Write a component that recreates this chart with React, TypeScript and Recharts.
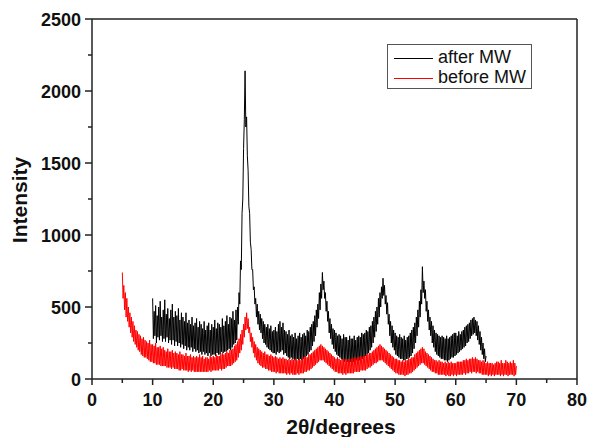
import React from 'react';
import { LineChart, Line, XAxis, YAxis, ReferenceLine, Label } from 'recharts';

// 2θ grid: each series starts at a given angle, one reading every 0.125°
const afterStart = 10;
const beforeStart = 5;
const step = 0.125;

// after MW, 10° .. 65°, one row per degree
const afterMW = [
  560, 280, 470, 300, 510, 250, 440, 290, // 10
  500, 270, 540, 300, 430, 260, 480, 280,
  550, 260, 450, 290, 490, 250, 420, 270,
  480, 240, 520, 270, 430, 230, 470, 260,
  440, 230, 490, 250, 410, 220, 460, 240,
  430, 210, 400, 230, 460, 200, 390, 220, // 15
  410, 200, 380, 220, 430, 190, 370, 210,
  390, 190, 420, 200, 360, 180, 400, 190,
  380, 170, 350, 190, 400, 170, 340, 180,
  370, 160, 390, 180, 340, 160, 380, 170,
  360, 170, 410, 160, 350, 180, 390, 170, // 20
  380, 170, 360, 190, 420, 180, 370, 190,
  400, 190, 440, 200, 380, 210, 430, 200,
  420, 220, 470, 240, 410, 250, 480, 270,
  500, 380, 600, 520, 820, 760, 1150, 1250,
  1600, 1800, 2140, 1750, 1820, 1550, 1450, 1200, // 25
  1150, 950, 900, 760, 760, 620, 640, 520,
  560, 430, 520, 380, 470, 340, 450, 320,
  420, 280, 400, 250, 380, 240, 360, 220,
  380, 210, 350, 200, 370, 190, 330, 180,
  340, 180, 360, 170, 330, 190, 380, 180, // 30
  400, 190, 360, 200, 390, 170, 340, 180,
  330, 160, 310, 150, 340, 140, 300, 150,
  310, 140, 290, 130, 320, 130, 280, 140,
  300, 130, 320, 140, 290, 130, 310, 140,
  320, 150, 300, 160, 340, 170, 330, 190, // 35
  360, 200, 380, 230, 400, 260, 440, 300,
  480, 360, 520, 420, 600, 480, 660, 560,
  740, 620, 680, 560, 600, 470, 540, 400,
  470, 320, 420, 280, 380, 240, 350, 210,
  340, 190, 320, 170, 300, 160, 310, 150, // 40
  300, 140, 280, 130, 310, 120, 290, 130,
  290, 120, 270, 110, 300, 120, 280, 110,
  280, 120, 300, 110, 270, 130, 290, 120,
  300, 130, 290, 140, 320, 140, 310, 150,
  320, 160, 340, 170, 330, 180, 360, 200, // 45
  370, 220, 400, 250, 430, 290, 470, 330,
  500, 380, 560, 430, 600, 500, 640, 560,
  700, 580, 650, 520, 580, 450, 530, 380,
  450, 300, 400, 250, 370, 220, 340, 200,
  320, 170, 300, 160, 290, 150, 310, 140, // 50
  290, 140, 280, 130, 300, 130, 270, 140,
  290, 140, 300, 150, 320, 160, 340, 180,
  360, 210, 390, 250, 430, 300, 480, 360,
  540, 430, 620, 520, 780, 600, 680, 560,
  620, 470, 540, 400, 480, 340, 430, 300, // 55
  400, 250, 370, 220, 340, 190, 320, 170,
  310, 160, 300, 150, 290, 140, 300, 140,
  290, 130, 280, 130, 300, 120, 280, 130,
  290, 140, 300, 150, 310, 150, 320, 160,
  320, 170, 300, 180, 330, 190, 310, 200, // 60
  330, 210, 340, 220, 360, 230, 370, 250,
  380, 260, 390, 280, 410, 300, 420, 310,
  430, 320, 410, 300, 400, 270, 370, 240,
  330, 200, 290, 170, 250, 140, 210, 120,
  160, // 65
];

// before MW, 5° .. 70°
const beforeMW = [
  740, 560, 650, 480, 600, 430, 560, 400, // 5
  500, 360, 460, 320, 430, 290, 400, 260,
  370, 240, 340, 220, 330, 200, 310, 190,
  300, 170, 280, 160, 290, 150, 270, 150,
  260, 140, 250, 130, 270, 120, 240, 120,
  240, 110, 230, 110, 250, 100, 220, 100, // 10
  220, 100, 230, 90, 210, 90, 220, 90,
  200, 90, 190, 80, 210, 80, 190, 80,
  190, 70, 200, 80, 180, 70, 190, 70,
  180, 70, 170, 60, 190, 60, 170, 70,
  170, 60, 160, 60, 180, 60, 160, 50, // 15
  160, 60, 170, 50, 150, 60, 160, 50,
  150, 50, 160, 50, 150, 50, 170, 50,
  150, 50, 160, 50, 140, 50, 150, 50,
  150, 50, 140, 60, 160, 50, 150, 60,
  160, 60, 150, 60, 170, 60, 160, 60, // 20
  160, 70, 170, 60, 180, 70, 170, 70,
  180, 80, 190, 90, 180, 90, 200, 90,
  200, 100, 210, 110, 230, 120, 240, 130,
  260, 150, 280, 180, 310, 200, 340, 240,
  380, 290, 430, 340, 460, 350, 420, 320, // 25
  360, 260, 320, 220, 290, 180, 260, 150,
  240, 130, 220, 110, 210, 100, 200, 90,
  190, 80, 180, 80, 190, 70, 170, 70,
  170, 60, 160, 60, 170, 50, 160, 50,
  150, 50, 160, 40, 150, 50, 140, 40, // 30
  150, 40, 140, 40, 150, 40, 140, 40,
  140, 30, 130, 40, 140, 30, 130, 40,
  140, 30, 130, 30, 140, 30, 130, 40,
  130, 30, 140, 40, 130, 40, 150, 40,
  150, 50, 160, 50, 150, 60, 170, 60, // 35
  170, 70, 180, 80, 190, 90, 200, 100,
  210, 110, 220, 120, 230, 130, 240, 130,
  230, 130, 220, 120, 210, 110, 200, 100,
  190, 90, 180, 80, 170, 70, 160, 60,
  150, 50, 140, 50, 150, 40, 140, 40, // 40
  130, 40, 140, 30, 130, 40, 140, 30,
  130, 40, 140, 40, 130, 40, 140, 40,
  140, 40, 150, 50, 140, 50, 150, 50,
  150, 50, 160, 60, 150, 60, 160, 60,
  160, 60, 170, 70, 170, 80, 180, 80, // 45
  180, 90, 190, 100, 200, 110, 210, 110,
  220, 120, 230, 130, 240, 130, 230, 130,
  220, 120, 210, 110, 200, 100, 190, 90,
  180, 80, 170, 70, 160, 60, 150, 50,
  140, 40, 140, 40, 130, 30, 130, 30, // 50
  120, 30, 130, 30, 120, 20, 130, 30,
  130, 30, 140, 40, 140, 40, 150, 50,
  150, 60, 170, 70, 180, 80, 190, 90,
  200, 100, 210, 110, 220, 110, 210, 100,
  190, 90, 180, 80, 170, 70, 160, 60, // 55
  150, 50, 140, 50, 130, 40, 130, 40,
  120, 30, 130, 30, 120, 30, 120, 30,
  110, 30, 120, 20, 110, 30, 120, 20,
  110, 20, 120, 30, 110, 20, 110, 30,
  110, 20, 120, 30, 120, 30, 120, 30, // 60
  120, 30, 130, 40, 130, 30, 140, 40,
  130, 40, 140, 50, 140, 40, 150, 50,
  140, 50, 150, 40, 140, 50, 130, 40,
  130, 40, 120, 30, 130, 30, 120, 30,
  110, 30, 120, 20, 110, 30, 110, 20, // 65
  110, 30, 100, 20, 110, 30, 120, 30,
  120, 30, 110, 20, 130, 30, 110, 20,
  110, 30, 130, 30, 120, 20, 110, 30,
  120, 30, 110, 30, 130, 20, 110, 30,
  90, // 70
];

const xTicks = [0, 5, 10, 15, 20, 25, 30, 35, 40, 45, 50, 55, 60, 65, 70, 75, 80];
const yTicks = [0, 250, 500, 750, 1000, 1250, 1500, 1750, 2000, 2250, 2500];

const afterData = afterMW.map((v, i) => ({ x: afterStart + i * step, y: v }));
const beforeData = beforeMW.map((v, i) => ({ x: beforeStart + i * step, y: v }));

const font = '"Liberation Sans", Arial, Helvetica, sans-serif';
const axisColor = '#222';

const XTick = (props: any) => {
  const { x, y, payload } = props;
  const major = payload.value % 10 === 0;
  return (
    <g>
      <line x1={x} x2={x} y1={y} y2={y + (major ? 6 : 4)} stroke={axisColor} strokeWidth={1.5} />
      {major && (
        <text x={x} y={y + 27} textAnchor="middle" fontFamily={font} fontWeight="bold" fontSize={18} fill="#111">
          {payload.value}
        </text>
      )}
    </g>
  );
};

const YTick = (props: any) => {
  const { x, y, payload } = props;
  const major = payload.value % 500 === 0;
  return (
    <g>
      <line x1={x - (major ? 7 : 4)} x2={x} y1={y} y2={y} stroke={axisColor} strokeWidth={1.5} />
      {major && (
        <text x={x - 11} y={y + 6.5} textAnchor="end" fontFamily={font} fontWeight="bold" fontSize={18} fill="#111">
          {payload.value}
        </text>
      )}
    </g>
  );
};

export default function App() {
  return (
    <div style={{ position: 'absolute', left: 0, top: 0, width: 591, height: 437, background: '#fff' }}>
      <LineChart width={591} height={437} margin={{ top: 19, right: 14, left: 0, bottom: 0 }}>
        <XAxis
          type="number"
          dataKey="x"
          domain={[0, 80]}
          ticks={xTicks}
          allowDataOverflow
          height={58}
          tickSize={0}
          tickMargin={0}
          tickLine={false}
          tick={<XTick />}
          axisLine={{ stroke: axisColor, strokeWidth: 1.5 }}
        >
          <Label
            content={() => (
              <text x={341} y={434} textAnchor="middle" fontFamily={font} fontWeight="bold" fontSize={21} fill="#111">
                2θ/degrees
              </text>
            )}
          />
        </XAxis>
        <YAxis
          type="number"
          domain={[0, 2500]}
          ticks={yTicks}
          allowDataOverflow
          width={92}
          tickSize={0}
          tickMargin={0}
          tickLine={false}
          tick={<YTick />}
          axisLine={{ stroke: axisColor, strokeWidth: 1.5 }}
        >
          <Label
            content={() => (
              <text
                x={27}
                y={200}
                transform="rotate(-90 27 200)"
                textAnchor="middle"
                fontFamily={font}
                fontWeight="bold"
                fontSize={21}
                fill="#111"
              >
                Intensity
              </text>
            )}
          />
        </YAxis>
        <ReferenceLine y={2500} stroke={axisColor} strokeWidth={1.5} />
        <ReferenceLine x={80} stroke={axisColor} strokeWidth={1.5} />
        <Line
          data={afterData}
          dataKey="y"
          type="linear"
          stroke="#000"
          strokeWidth={1}
          dot={false}
          isAnimationActive={false}
        />
        <Line
          data={beforeData}
          dataKey="y"
          type="linear"
          stroke="#ff0000"
          strokeWidth={1}
          dot={false}
          isAnimationActive={false}
        />
      </LineChart>
      <div
        style={{
          position: 'absolute',
          left: 387,
          top: 44,
          width: 143,
          height: 43,
          border: '1px solid #555',
          background: '#fff',
          fontFamily: font,
          fontSize: 18,
          color: '#111',
        }}
      >
        <div style={{ position: 'absolute', left: 6, top: 13, width: 39, height: 1, background: '#000' }} />
        <div style={{ position: 'absolute', left: 50, top: 2, lineHeight: '20px', whiteSpace: 'nowrap' }}>after MW</div>
        <div style={{ position: 'absolute', left: 6, top: 33, width: 39, height: 1, background: '#ff0000' }} />
        <div style={{ position: 'absolute', left: 50, top: 22, lineHeight: '20px', whiteSpace: 'nowrap' }}>before MW</div>
      </div>
    </div>
  );
}
